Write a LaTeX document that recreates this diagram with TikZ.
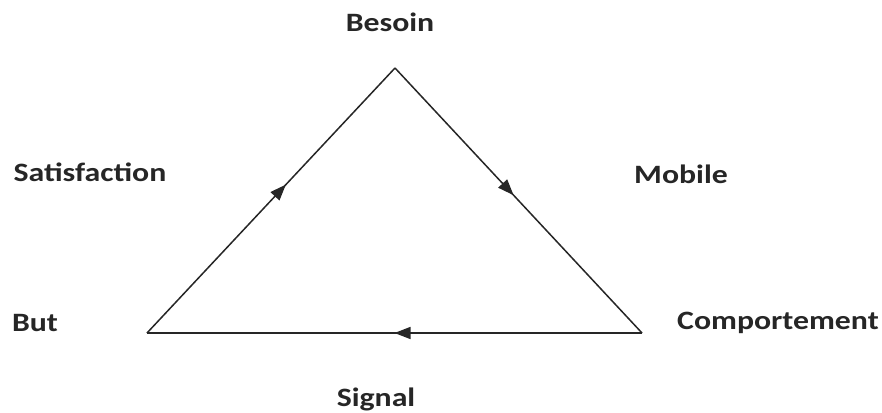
\documentclass[tikz,border=0pt]{standalone}
\usepackage{fontspec}
\setmainfont{Carlito}
\newfontfamily\lblfont{Carlito}[FakeStretch=1.2]
\usetikzlibrary{arrows.meta,decorations.markings}

\tikzset{
  lbl/.style={font=\lblfont\bfseries\fontsize{26.5}{28}\selectfont, text=black!85, inner sep=0pt},
  flow/.style={line width=1.5pt, black!85,
    postaction={decorate, decoration={markings,
      mark=at position #1 with {\arrow{Triangle[length=16pt,width=12pt]}}}}}
}

\begin{document}
\begin{tikzpicture}[x=1pt, y=-1pt]
  \useasboundingbox (0,0) rectangle (882,412);
  % triangle corners
  \coordinate (top) at (395,68);
  \coordinate (left) at (147,333);
  \coordinate (right) at (642,333);
  % labels
  \node[lbl] (besoin) at (390,22) {Besoin};
  \node[lbl] (satisfaction) at (90,172) {Satisfaction};
  \node[lbl] (mobile) at (681,174) {Mobile};
  \node[lbl] (but) at (35,323) {But};
  \node[lbl] (comportement) at (778,323) {Comportement};
  \node[lbl] (signal) at (376,399) {Signal};
  % cycle
  \draw[flow=0.56] (left) -- (top);
  \draw[flow=0.48] (top) -- (right);
  \draw[flow=0.50] (right) -- (left);
\end{tikzpicture}
\end{document}
